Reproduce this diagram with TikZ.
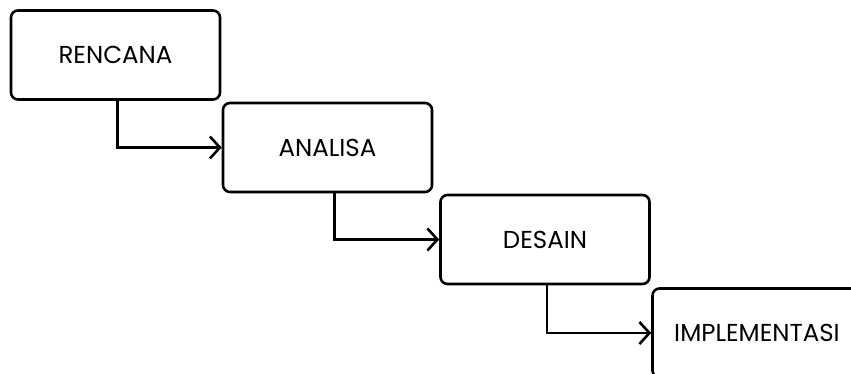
\documentclass[tikz,border=0pt]{standalone}
\usepackage{fontspec}
\setmainfont{Poppins}
\usetikzlibrary{arrows.meta}

\begin{document}
\begin{tikzpicture}[x=1pt,y=-1pt,
  phase/.style={draw,line width=2.6pt,rounded corners=7pt,minimum width=209pt,minimum height=89pt,inner sep=0pt,font=\fontsize{24.5}{28}\selectfont},
  flow/.style={line width=2.6pt,-{Straight Barb[length=10pt,width=22pt,line width=2.6pt]}}]

\useasboundingbox (0,0) rectangle (851,374);

\node[phase] (rencana) at (115.5,55) {RENCANA};
\node[phase] (analisa) at (327.5,147.5) {ANALISA};
\node[phase] (desain) at (545,239.5) {DESAIN};
\node[phase] (implementasi) at (757,333) {IMPLEMENTASI};

\draw [flow]([xshift=2pt]rencana.south) |- (analisa.west);
\draw [flow]([xshift=7pt]analisa.south) |- (desain.west);
\draw [flow]([xshift=2pt]desain.south) |- (implementasi.west);
\end{tikzpicture}
\end{document}
